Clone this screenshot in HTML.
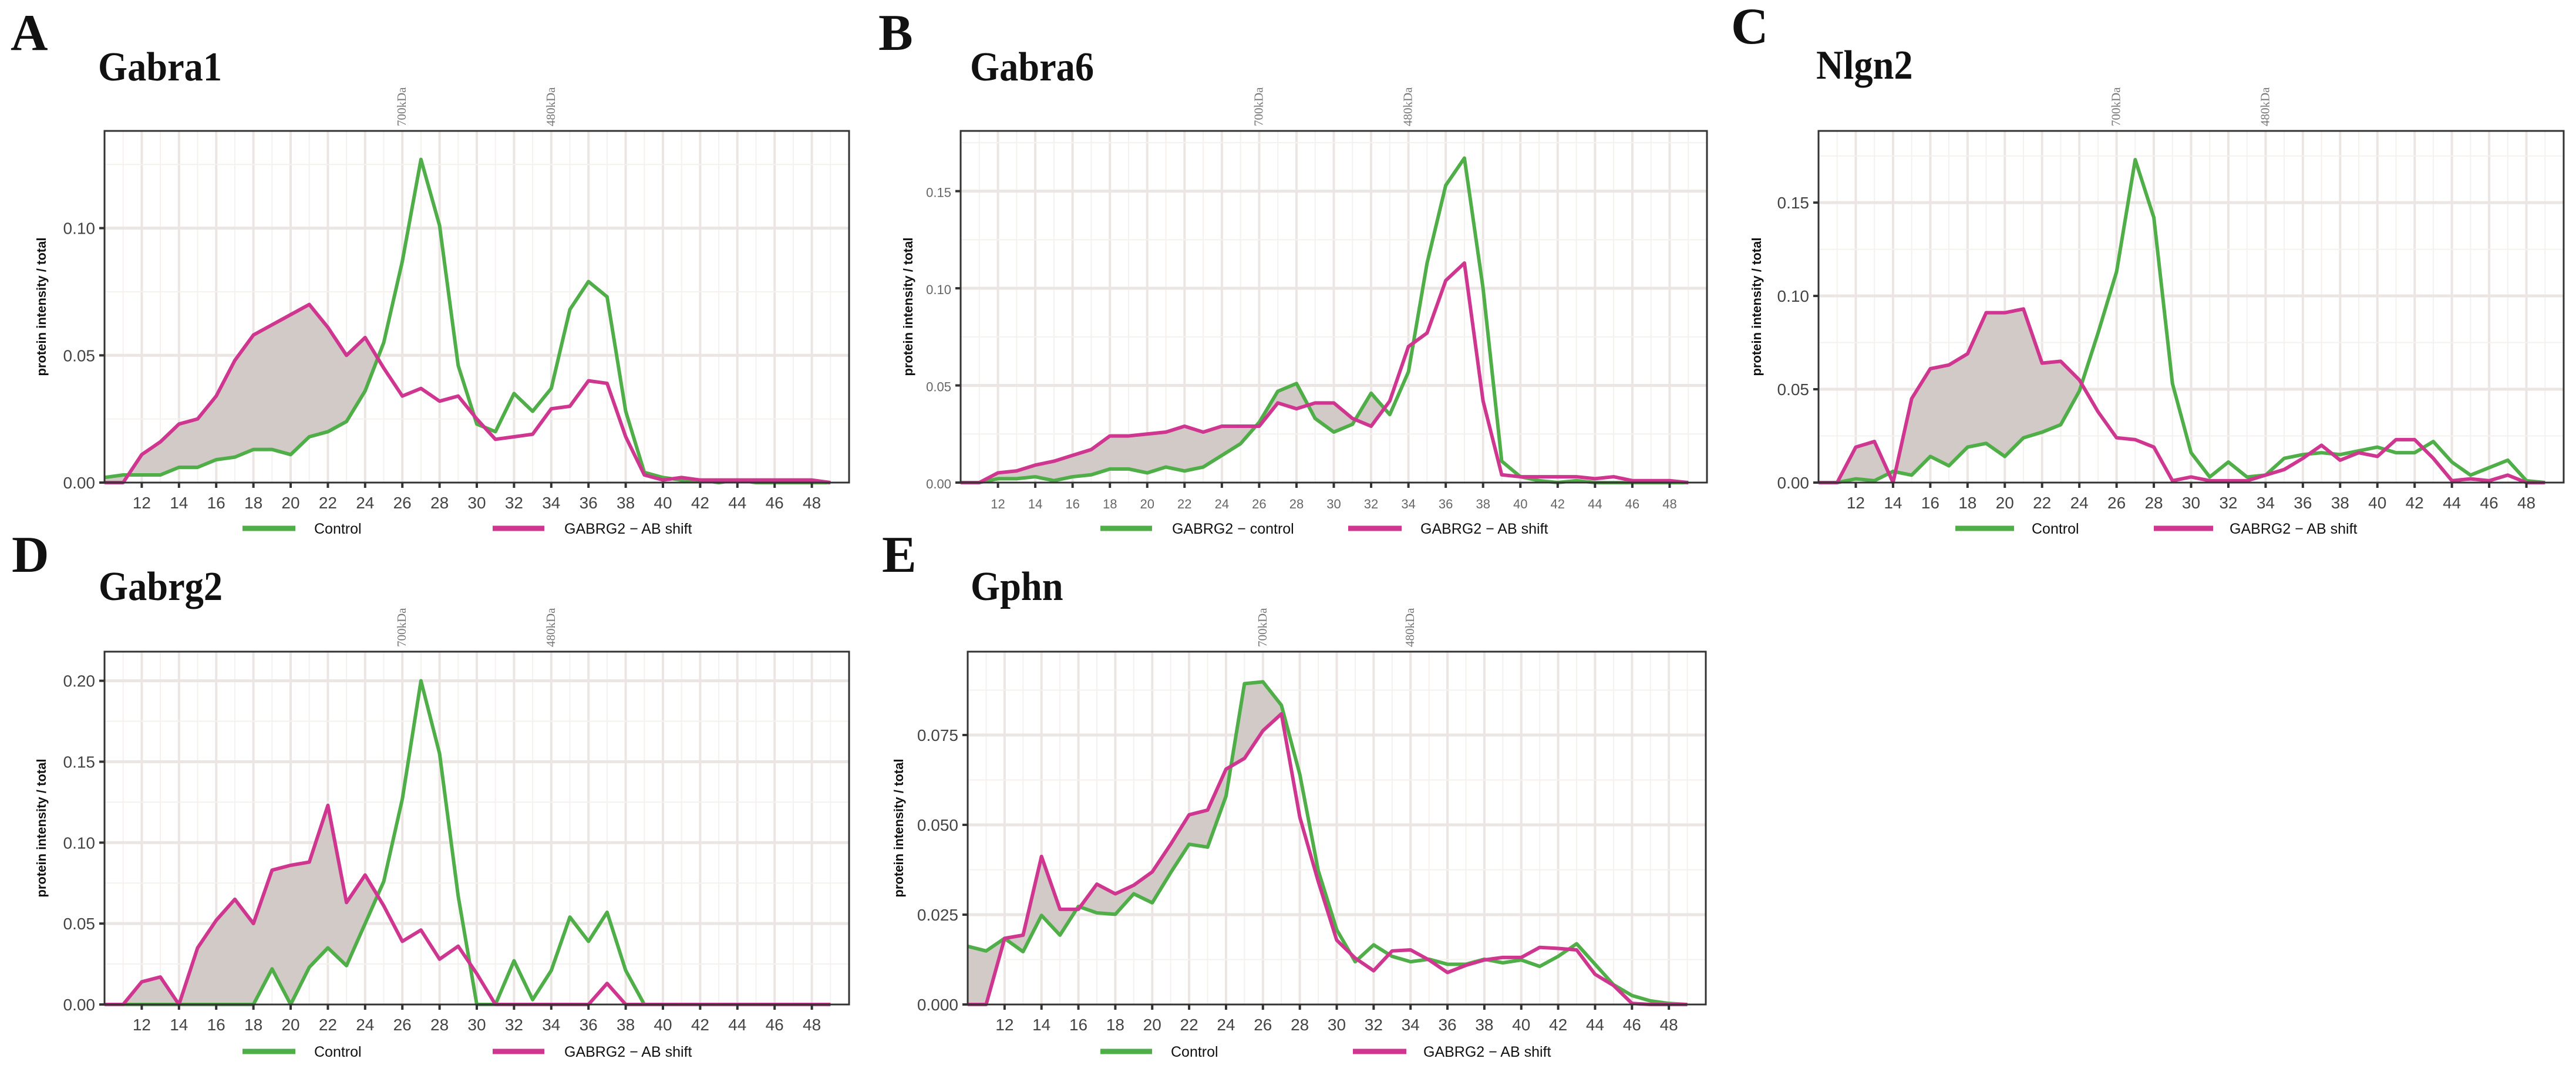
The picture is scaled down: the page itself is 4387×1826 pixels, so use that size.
<!DOCTYPE html>
<html><head><meta charset="utf-8"><style>
html,body{margin:0;padding:0;background:#fff;}
svg{display:block;}
</style></head><body>
<svg id="fig" width="4387" height="1826" viewBox="0 0 4387 1826" xmlns="http://www.w3.org/2000/svg"></svg>
<script>
const xs = [10,11,12,13,14,15,16,17,18,19,20,21,22,23,24,25,26,27,28,29,30,31,32,33,34,35,36,37,38,39,40,41,42,43,44,45,46,47,48,49];
const xTicks = [12,14,16,18,20,22,24,26,28,30,32,34,36,38,40,42,44,46,48];
const markerNames = ["700kDa","480kDa"];
const markerFractions = [26,34];

const gabra1Control = [0.002,0.003,0.003,0.003,0.006,0.006,0.009,0.010,0.013,0.013,0.011,0.018,0.020,0.024,0.036,0.055,0.087,0.127,0.101,0.046,0.023,0.020,0.035,0.028,0.037,0.068,0.079,0.073,0.028,0.004,0.002,0.001,0.001,0.000,0.001,0,0,0,0,0];
const gabra1Shift = [0,0,0.011,0.016,0.023,0.025,0.034,0.048,0.058,0.062,0.066,0.070,0.061,0.050,0.057,0.045,0.034,0.037,0.032,0.034,0.025,0.017,0.018,0.019,0.029,0.030,0.040,0.039,0.018,0.003,0.001,0.002,0.001,0.001,0.001,0.001,0.001,0.001,0.001,0];
const gabra6Control = [0,0,0.002,0.002,0.003,0.001,0.003,0.004,0.007,0.007,0.005,0.008,0.006,0.008,0.014,0.020,0.031,0.047,0.051,0.033,0.026,0.030,0.046,0.035,0.057,0.113,0.153,0.167,0.100,0.011,0.003,0.001,0,0.001,0,0,0,0,0,0];
const gabra6Shift = [0,0,0.005,0.006,0.009,0.011,0.014,0.017,0.024,0.024,0.025,0.026,0.029,0.026,0.029,0.029,0.029,0.041,0.038,0.041,0.041,0.033,0.029,0.042,0.070,0.077,0.104,0.113,0.042,0.004,0.003,0.003,0.003,0.003,0.002,0.003,0.001,0.001,0.001,0];
const nlgn2Control = [0,0,0.002,0.001,0.006,0.004,0.014,0.009,0.019,0.021,0.014,0.024,0.027,0.031,0.049,0.080,0.113,0.173,0.142,0.053,0.016,0.003,0.011,0.003,0.004,0.013,0.015,0.016,0.015,0.017,0.019,0.016,0.016,0.022,0.011,0.004,0.008,0.012,0.001,0];
const nlgn2Shift = [0,0,0.019,0.022,0,0.045,0.061,0.063,0.069,0.091,0.091,0.093,0.064,0.065,0.055,0.038,0.024,0.023,0.019,0.001,0.003,0.001,0.001,0.001,0.004,0.007,0.013,0.020,0.012,0.016,0.014,0.023,0.023,0.013,0.001,0.002,0.001,0.004,0,0];
const gabrg2Control = [0,0,0,0,0,0,0,0,0,0.022,0,0.023,0.035,0.024,0.050,0.076,0.127,0.200,0.155,0.067,0,0,0.027,0.003,0.021,0.054,0.039,0.057,0.021,0,0,0,0,0,0,0,0,0,0,0];
const gabrg2Shift = [0,0,0.014,0.017,0,0.035,0.052,0.065,0.050,0.083,0.086,0.088,0.123,0.063,0.080,0.061,0.039,0.046,0.028,0.036,0.019,0,0,0,0,0,0,0.013,0,0,0,0,0,0,0,0,0,0,0,0];
const gphnControl = [0.0162,0.0149,0.0184,0.0147,0.0248,0.0193,0.0273,0.0255,0.0251,0.0308,0.0283,0.0367,0.0446,0.0438,0.058,0.0893,0.0898,0.0833,0.064,0.0372,0.0208,0.0119,0.0166,0.0134,0.0119,0.0126,0.0112,0.0112,0.0126,0.0116,0.0124,0.0106,0.0134,0.0169,0.0112,0.0055,0.0025,0.001,0.0003,0];
const gphnShift = [0,0,0.0184,0.0193,0.0412,0.0265,0.0265,0.0335,0.0308,0.0332,0.0369,0.0446,0.0528,0.0541,0.0655,0.0685,0.0762,0.0809,0.0521,0.0342,0.0179,0.0129,0.0094,0.0149,0.0152,0.0124,0.0089,0.0109,0.0124,0.0131,0.0131,0.0159,0.0156,0.0152,0.0084,0.0053,0.0003,0,0,0];

const ticksA = [0,0.05,0.10], labelsA = ["0.00","0.05","0.10"];
const ticksB = [0,0.05,0.10,0.15], labelsB = ["0.00","0.05","0.10","0.15"];
const ticksD = [0,0.05,0.10,0.15,0.20], labelsD = ["0.00","0.05","0.10","0.15","0.20"];
const ticksE = [0,0.025,0.05,0.075], labelsE = ["0.000","0.025","0.050","0.075"];

const NS = "http://www.w3.org/2000/svg";
const svg = document.getElementById('fig');
const GREEN = "#4fae48", MAG = "#cf3690", FILL = "#d2cac6";
function mk(tag, attrs, parent){ const e=document.createElementNS(NS,tag); for(const k in attrs) e.setAttribute(k,attrs[k]); (parent||svg).appendChild(e); return e; }
function txt(s, attrs, parent){ const e=mk('text',attrs,parent); e.textContent=s; return e; }

function panel(cfg){
  const g = mk('g',{});
  
  
  const {L,R,T,B,yMax} = cfg;
  const sx = v => L + (v-10)/(50-10)*(R-L);
  const sy = v => B - v/yMax*(B-T);
  // letter + title
  const lt = txt(cfg.letter,{x:cfg.letterX,y:cfg.letterY,'font-family':'"Liberation Serif",serif','font-weight':'bold','font-size':88,fill:'#111'},g);
  
  
  const tt = txt(cfg.title,{x:cfg.titleX,y:cfg.titleY,'font-family':'"Liberation Serif",serif','font-weight':'bold','font-size':70,fill:'#111',transform:`translate(${cfg.titleX},0) scale(0.92,1) translate(${-cfg.titleX},0)`},g);
  
  
  // grid
  for(let v=11; v<50; v++){
    const major = v%2===0;
    const gl = mk('line',{x1:sx(v),x2:sx(v),y1:T,y2:B,stroke:major?'#ebe6e3':'#f4f1ef','stroke-width':major?4:2},g);
    
    
  }
  const step = cfg.ticks[1]-cfg.ticks[0];
  for(let v=step/2; v<yMax; v+=step/2){
    const major = Math.abs(v/step - Math.round(v/step))<1e-6;
    const gl = mk('line',{x1:L,x2:R,y1:sy(v),y2:sy(v),stroke:major?'#ebe6e3':'#f4f1ef','stroke-width':major?5:2},g);
    
    
  }
  // fill between curves
  const a=cfg.ctrl, b=cfg.shift, fe=cfg.fillEnd;
  let top=[], bot=[];
  for(let i=0;i<=fe;i++){ top.push([sx(xs[i]),sy(a[i])]); bot.push([sx(xs[i]),sy(b[i])]); }
  const d0=a[fe]-b[fe], d1=a[fe+1]-b[fe+1];
  if(d0*d1<0){ const t=d0/(d0-d1); const xv=xs[fe]+t; const yv=a[fe]+t*(a[fe+1]-a[fe]); top.push([sx(xv),sy(yv)]); bot.push([sx(xv),sy(yv)]); }
  const poly = top.concat(bot.reverse()).map(p=>p.join(',')).join(' ');
  const fp = mk('polygon',{points:poly,fill:FILL,stroke:'none'},g);
  
  
  // lines
  const gl1 = mk('polyline',{points:xs.map((x,i)=>sx(x)+','+sy(a[i])).join(' '),fill:'none',stroke:GREEN,'stroke-width':6,'stroke-linejoin':'round'},g);
  
  
  const gl2 = mk('polyline',{points:xs.map((x,i)=>sx(x)+','+sy(b[i])).join(' '),fill:'none',stroke:MAG,'stroke-width':6,'stroke-linejoin':'round'},g);
  
  
  // frame
  const fr = mk('rect',{x:L,y:T,width:R-L,height:B-T,fill:'none',stroke:'#333','stroke-width':3},g);
  
  
  const tfs = cfg.small?22:28, tcol = cfg.small?'#666':'#444';
  // x ticks
  xTicks.forEach(v=>{
    const tk = mk('line',{x1:sx(v),x2:sx(v),y1:B,y2:B+9,stroke:'#333','stroke-width':4},g);
    
    
    const tl = txt(String(v),{x:sx(v),y:B+44,'text-anchor':'middle','font-family':'"Liberation Sans Narrow","Liberation Sans",sans-serif','font-size':tfs,fill:tcol},g);
    
    
  });
  cfg.ticks.forEach((v,i)=>{
    const tk = mk('line',{x1:L-9,x2:L,y1:sy(v),y2:sy(v),stroke:'#333','stroke-width':4},g);
    
    
    const tl = txt(cfg.labels[i],{x:L-16,y:sy(v)+10,'text-anchor':'end','font-family':'"Liberation Sans Narrow","Liberation Sans",sans-serif','font-size':tfs,fill:tcol},g);
    
    
  });
  // markers
  markerFractions.forEach((v,i)=>{
    const X=sx(v)+6, Y=T-8;
    const ml = txt(markerNames[i],{x:X,y:Y,transform:`rotate(-90 ${X} ${Y})`,'font-family':'"Liberation Serif",serif','font-size':21,fill:'#777'},g);
    
    
  });
  // y axis title
  const cy=(T+B)/2;
  const yt = txt('protein intensity / total',{x:cfg.yTitleX,y:cy,transform:`rotate(-90 ${cfg.yTitleX} ${cy})`,'text-anchor':'middle','font-family':'"Liberation Sans",sans-serif','font-weight':'bold','font-size':22,fill:'#111'},g);
  
  
  // legend
  const ly = cfg.legY;
  const l1 = mk('line',{x1:cfg.leg[0],x2:cfg.leg[1],y1:ly,y2:ly,stroke:GREEN,'stroke-width':9},g);
  
  
  const t1 = txt(cfg.legNames[0],{x:cfg.leg[2],y:ly+9,'font-family':'"Liberation Sans",sans-serif','font-size':25,fill:'#111'},g);
  
  
  const l2 = mk('line',{x1:cfg.leg[3],x2:cfg.leg[4],y1:ly,y2:ly,stroke:MAG,'stroke-width':9},g);
  
  
  const t2 = txt(cfg.legNames[1],{x:cfg.leg[5],y:ly+9,'font-family':'"Liberation Sans",sans-serif','font-size':25,fill:'#111'},g);
  
  
}

panel({id:'gabra1',letter:'A',letterX:18,letterY:85,title:'Gabra1',titleX:167,titleY:137,L:178,R:1446,T:223,B:822,yMax:0.1382,ticks:ticksA,labels:labelsA,ctrl:gabra1Control,shift:gabra1Shift,fillEnd:14,yTitleX:78,legY:900,leg:[413,503,535,839,927,961],legNames:['Control','GABRG2 − AB shift']});
panel({id:'gabra6',letter:'B',letterX:1496,letterY:85,title:'Gabra6',titleX:1652,titleY:137,L:1636,R:2907,T:223,B:822,yMax:0.181,ticks:ticksB,labels:labelsB,ctrl:gabra6Control,shift:gabra6Shift,fillEnd:22,yTitleX:1554,legY:900,leg:[1874,1962,1996,2296,2387,2419],legNames:['GABRG2 − control','GABRG2 − AB shift'],small:true});
panel({id:'nlgn2',letter:'C',letterX:2948,letterY:74,title:'Nlgn2',titleX:3093,titleY:134,L:3097,R:4366,T:223,B:822,yMax:0.1884,ticks:ticksB,labels:labelsB,ctrl:nlgn2Control,shift:nlgn2Shift,fillEnd:14,yTitleX:2999,legY:900,leg:[3330,3430,3460,3668,3769,3797],legNames:['Control','GABRG2 − AB shift']});
panel({id:'gabrg2',letter:'D',letterX:20,letterY:974,title:'Gabrg2',titleX:168,titleY:1022,L:178,R:1446,T:1110,B:1711,yMax:0.218,ticks:ticksD,labels:labelsD,ctrl:gabrg2Control,shift:gabrg2Shift,fillEnd:14,yTitleX:78,legY:1791,leg:[413,503,535,839,927,961],legNames:['Control','GABRG2 − AB shift']});
panel({id:'gphn',letter:'E',letterX:1502,letterY:974,title:'Gphn',titleX:1653,titleY:1022,L:1648,R:2905,T:1110,B:1711,yMax:0.0982,ticks:ticksE,labels:labelsE,ctrl:gphnControl,shift:gphnShift,fillEnd:17,yTitleX:1538,legY:1791,leg:[1874,1962,1994,2304,2395,2424],legNames:['Control','GABRG2 − AB shift']});
</script>
</body></html>
